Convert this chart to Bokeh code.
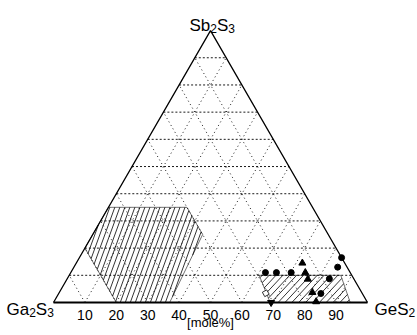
import math
from bokeh.plotting import figure
from bokeh.models import Range1d
from bokeh.core.properties import value
from bokeh.embed import file_html
from bokeh.resources import INLINE

# ---------------- data (ternary compositions, mole %) ----------------
tick_values = [10, 20, 30, 40, 50, 60, 70, 80, 90]
tick_labels = ["10", "20", "30", "40", "50", "60", "70", "80", "90"]
grid_levels = [10, 20, 30, 40, 50, 60, 70, 80, 90]

# glass-forming regions (GeS2 %, Sb2S3 %)
left_region_ges2 = [0, 25, 35, 37, 20, 0]
left_region_sb2s3 = [35, 35, 25, 0, 0, 20]
right_region_ges2 = [60.5, 86.5, 94.5, 69]
right_region_sb2s3 = [10, 10, 0, 0]

circle_ges2 = [83.5, 84.0, 62.0, 65.5, 70.2, 83.5, 83.5]
circle_sb2s3 = [16.5, 13.0, 11.0, 11.0, 11.0, 8.7, 3.3]
triangle_ges2 = [72.0, 74.7, 76.7, 80.6, 83.5]
triangle_sb2s3 = [14.5, 11.0, 8.6, 3.7, 0.3]
down_triangle_ges2 = [69.3]
down_triangle_sb2s3 = [0.0]
square_ges2 = [65.9]
square_sb2s3 = [3.4]

FONT = "Liberation Sans"
R3 = math.sqrt(3) / 2


def tern(g, s):
    return [gi + si / 2 for gi, si in zip(g, s)], [si * R3 for si in s]


# ---------------- figure / scale ----------------
W, H = 417, 335
SCALE = 3.14  # px per data unit
OX, OY = 0, 0  # canvas position on the page
LEFT_PX, BASE_PX = 53 - OX, 302 - OY
x0 = -LEFT_PX / SCALE
x1 = x0 + W / SCALE
y1 = BASE_PX / SCALE
y0 = y1 - H / SCALE
PX = 1 / SCALE

p = figure(width=W, height=H, x_range=Range1d(x0, x1), y_range=Range1d(y0, y1),
           output_backend="svg", toolbar_location=None, min_border=0,
           x_axis_type=None, y_axis_type=None)
p.grid.visible = False
p.outline_line_color = None
p.background_fill_color = "white"
p.border_fill_color = "white"

# ---------------- grid ----------------
hx, hy, dx, dy = [], [], [], []
for k in grid_levels:
    a, b = tern([0, 100 - k], [k, k])
    hx.append(a); hy.append(b)
    a, b = tern([k, k], [0, 100 - k])
    dx.append(a); dy.append(b)
    a, b = tern([100 - k, 0], [0, 100 - k])
    dx.append(a); dy.append(b)
p.multi_line(hx, hy, line_color="black", line_width=1, line_dash="2 2", line_alpha=0.9)
p.multi_line(dx, dy, line_color="black", line_width=1, line_dash="1 3", line_alpha=0.9)


# ---------------- hatched regions ----------------
def hatch(xs, ys, angle_deg, spacing):
    th = math.radians(angle_deg)
    nx, ny = -math.sin(th), math.cos(th)
    proj = [nx * x + ny * y for x, y in zip(xs, ys)]
    cmin, cmax = min(proj), max(proj)
    n = len(xs)
    sx, sy = [], []
    c = cmin + spacing / 2
    while c < cmax:
        pts = []
        for i in range(n):
            j = (i + 1) % n
            fa, fb = proj[i] - c, proj[j] - c
            if (fa < 0) != (fb < 0):
                t = fa / (fa - fb)
                pts.append((xs[i] + t * (xs[j] - xs[i]), ys[i] + t * (ys[j] - ys[i])))
        if len(pts) >= 2:
            sx.append([pts[0][0], pts[1][0]])
            sy.append([pts[0][1], pts[1][1]])
        c += spacing
    return sx, sy


lx, ly = tern(left_region_ges2, left_region_sb2s3)
rx, ry = tern(right_region_ges2, right_region_sb2s3)
a, b = hatch(lx, ly, 70, 1.5)
p.multi_line(a, b, line_color="black", line_width=0.8)
a, b = hatch(rx, ry, 47, 1.6)
p.multi_line(a, b, line_color="black", line_width=0.8)
p.patch(lx, ly, fill_color=None, line_color="black", line_width=0.8, line_alpha=0.7)
p.patch(rx, ry, fill_color=None, line_color="black", line_width=0.8, line_alpha=0.7)

# ---------------- triangle frame ----------------
fx, fy = tern([0, 0, 100], [0, 100, 0])
p.line(fx, fy, line_color="black", line_width=1.3)
bx, by = tern([0, 100], [0, 0])
p.line(bx, by, line_color="black", line_width=2)

# ---------------- data points ----------------
cx, cy = tern(circle_ges2, circle_sb2s3)
p.scatter(cx, cy, marker="circle", size=6, color="black")
tx, ty = tern(triangle_ges2, triangle_sb2s3)
p.scatter(tx, ty, marker="triangle", size=7, color="black")
ix, iy = tern(down_triangle_ges2, down_triangle_sb2s3)
p.scatter(ix, iy, marker="inverted_triangle", size=7, color="black")
qx, qy = tern(square_ges2, square_sb2s3)
p.scatter(qx, qy, marker="square", size=5, fill_color="white", line_color="black",
          line_width=0.8, angle=0.5)

# ---------------- texts ----------------
tkx, tky = tern(tick_values, [0] * len(tick_values))
p.text(tkx, [y - 12 * PX for y in tky], text=tick_labels,
       text_align="center", text_baseline="alphabetic", text_font=value(FONT),
       text_font_size=value("14px"), text_color="black")
p.text([50], [-20 * PX], text=["[mole%]"], text_align="center",
       text_baseline="alphabetic", text_font=value(FONT),
       text_font_size=value("13px"), text_color="black")

MAIN, SUB = 17, 12
ADV = {"S": 0.667, "b": 0.556, "G": 0.778, "a": 0.556, "e": 0.556, "2": 0.556, "3": 0.556}


def formula(parts, left_px, base_px):
    xs_, ys_, ts_, sizes = [], [], [], []
    cur = left_px
    for t, sub in parts:
        fs = SUB if sub else MAIN
        xs_.append(x0 + (cur - OX) * PX)
        ys_.append(y1 - (base_px + (3 if sub else 0) - OY) * PX)
        ts_.append(t)
        sizes.append(f"{fs}px")
        cur += sum(ADV[ch] for ch in t) * fs
    p.text(xs_, ys_, text=ts_, text_font_size=sizes, text_align="left",
           text_baseline="alphabetic", text_font=value(FONT), text_color="black")


formula([("Sb", False), ("2", True), ("S", False), ("3", True)], 189, 25)
formula([("Ga", False), ("2", True), ("S", False), ("3", True)], 6, 309)
formula([("GeS", False), ("2", True)], 374, 309)

open("out.html", "w").write(file_html(p, INLINE))
